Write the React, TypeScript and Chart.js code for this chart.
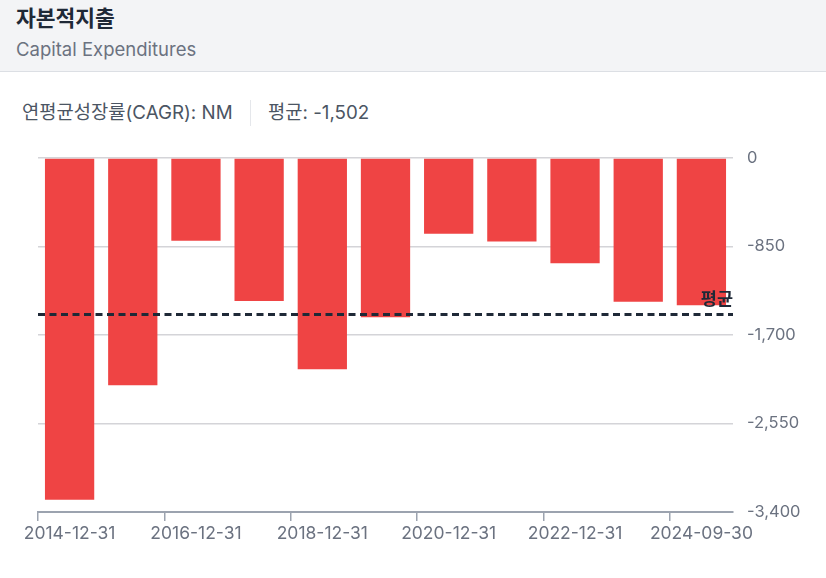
import React, { useEffect, useRef } from "react";
import { Chart, registerables } from "chart.js";

Chart.register(...registerables);

const categories = [
  "2014-12-31", "2015-12-31", "2016-12-31", "2017-12-31", "2018-12-31", "2019-12-31",
  "2020-12-31", "2021-12-31", "2022-12-31", "2023-12-31", "2024-09-30",
];
const capexValues = [-3283, -2182, -795, -1373, -2028, -1530, -728, -802, -1010, -1380, -1415];
const yTicks = [0, -850, -1700, -2550, -3400];
const averageValue = -1502;
const titleKo = "자본적지출";
const titleEn = "Capital Expenditures";
const cagrText = "연평균성장률(CAGR): NM";
const avgText = "평균: -1,502";
const avgLabel = "평균";

const FONT = "Inter, 'Noto Sans CJK KR', 'Noto Sans', sans-serif";

const avgLinePlugin = {
  id: "avgLine",
  afterDatasetsDraw(chart: any) {
    const { ctx, chartArea, scales } = chart;
    const y = scales.y.getPixelForValue(averageValue);
    ctx.save();
    ctx.strokeStyle = "#1f2937";
    ctx.lineWidth = 3;
    ctx.setLineDash([7, 4.5]);
    ctx.beginPath();
    ctx.moveTo(chartArea.left, y);
    ctx.lineTo(chartArea.right, y);
    ctx.stroke();
    ctx.setLineDash([]);
    ctx.fillStyle = "#1f2937";
    ctx.font = `bold 17.5px ${FONT}`;
    ctx.textAlign = "right";
    ctx.textBaseline = "bottom";
    ctx.fillText(avgLabel, chartArea.right, y - 6);
    ctx.restore();
  },
};

export default function App() {
  const canvasRef = useRef<HTMLCanvasElement>(null);

  useEffect(() => {
    document.body.style.margin = "0";
    const chart = new Chart(canvasRef.current!, {
      type: "bar",
      data: {
        labels: categories,
        datasets: [
          {
            data: capexValues,
            backgroundColor: "#ef4444",
            borderWidth: 0,
            barPercentage: 0.78,
            categoryPercentage: 1,
          },
        ],
      },
      options: {
        responsive: false,
        animation: false,
        layout: { padding: { left: 38, top: 18, right: 0, bottom: 0 } },
        plugins: { legend: { display: false }, tooltip: { enabled: false } },
        scales: {
          x: {
            afterFit(scale: any) {
              scale.height = 66;
              scale.paddingLeft = 0;
              scale.paddingRight = 0;
            },
            grid: {
              drawOnChartArea: false,
              drawTicks: true,
              tickLength: 9,
              lineWidth: 1.5,
              color: (ctx: any) => (ctx.index % 2 === 0 ? "#9ca3af" : "rgba(0,0,0,0)"),
            },
            border: { display: true, color: "#9ca3af", width: 2 },
            ticks: {
              autoSkip: false,
              maxRotation: 0,
              padding: 2,
              color: "#6b7280",
              font: { family: FONT, size: 17.5 },
              callback: (_v: any, i: number) => (i % 2 === 0 ? categories[i] : ""),
            },
          },
          y: {
            position: "right",
            min: yTicks[yTicks.length - 1],
            max: yTicks[0],
            afterFit(scale: any) {
              scale.width = 93;
              scale.paddingTop = 0;
              scale.paddingBottom = 0;
            },
            afterBuildTicks(scale: any) {
              scale.ticks = yTicks.map((v) => ({ value: v }));
            },
            grid: { drawTicks: false, color: "#d4d4d8", lineWidth: 1.5 },
            border: { display: false },
            ticks: {
              padding: 14,
              color: "#6b7280",
              font: { family: FONT, size: 16.5 },
              callback: (v: any) => Number(v).toLocaleString("en-US"),
            },
          },
        },
      },
      plugins: [avgLinePlugin],
    });
    return () => chart.destroy();
  }, []);

  return (
    <div style={{ position: "relative", width: 826, height: 578, background: "#fff", fontFamily: FONT, overflow: "hidden" }}>
      <div
        style={{
          position: "absolute", left: 0, top: 0, width: 826, height: 72,
          background: "#f3f4f6", borderBottom: "1px solid #dcdfe4", boxSizing: "border-box",
        }}
      >
        <div style={{ position: "absolute", left: 16, top: 3, fontSize: 21.5, fontWeight: 700, color: "#1f2937", lineHeight: "30px", whiteSpace: "nowrap" }}>
          {titleKo}
        </div>
        <div style={{ position: "absolute", left: 16, top: 36, fontSize: 18.5, color: "#6b7280", lineHeight: "26px", whiteSpace: "nowrap" }}>
          {titleEn}
        </div>
      </div>
      <div style={{ position: "absolute", left: 22, top: 100, fontSize: 18.75, color: "#4b5563", lineHeight: "26px", whiteSpace: "nowrap" }}>
        {cagrText}
      </div>
      <div style={{ position: "absolute", left: 250, top: 100, width: 1, height: 26, background: "#e5e7eb" }} />
      <div style={{ position: "absolute", left: 268, top: 100, fontSize: 18.75, color: "#4b5563", lineHeight: "26px", whiteSpace: "nowrap" }}>
        {avgText}
      </div>
      <div style={{ position: "absolute", left: 0, top: 140, width: 826, height: 438 }}>
        <canvas ref={canvasRef} width={826} height={438} style={{ display: "block", width: 826, height: 438 }} />
      </div>
    </div>
  );
}
